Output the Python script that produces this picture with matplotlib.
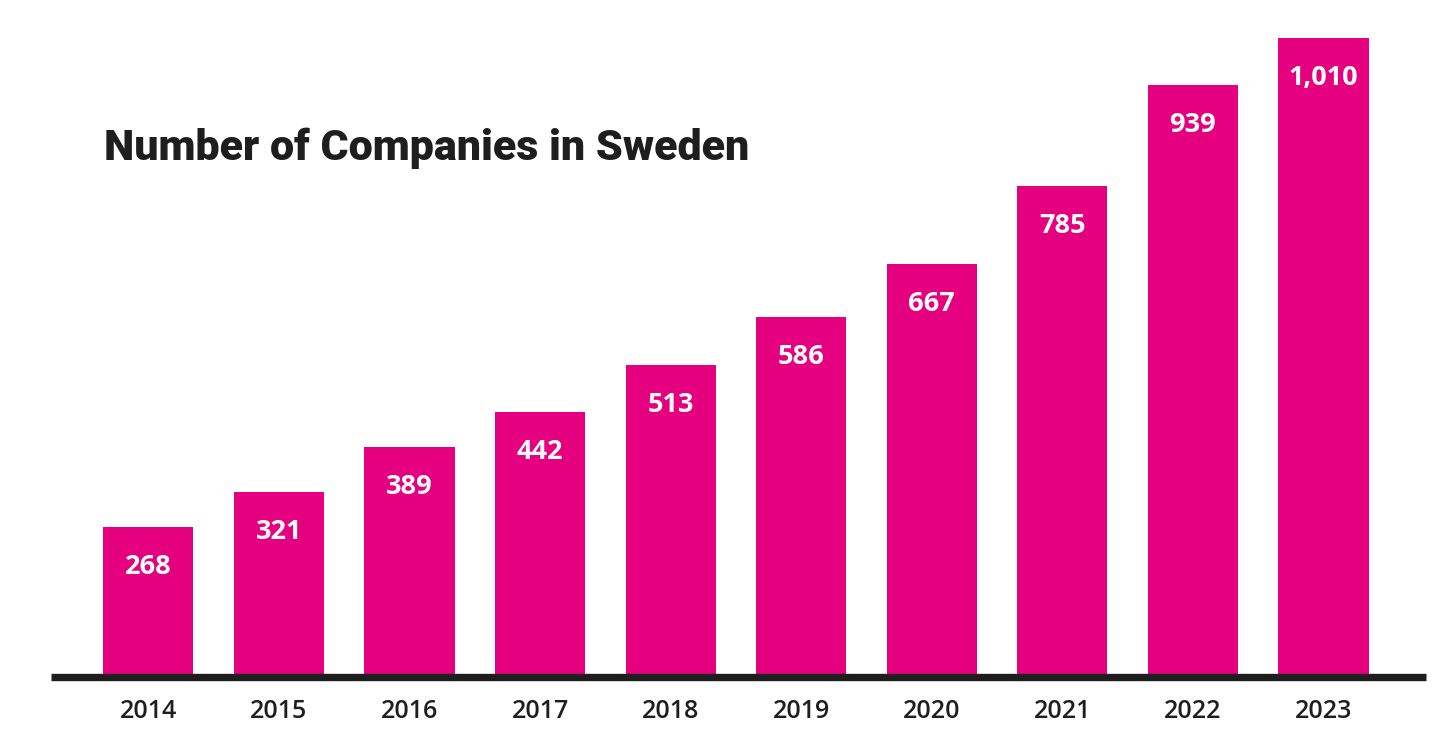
import matplotlib
matplotlib.use("Agg")
import matplotlib.pyplot as plt

years = ["2014", "2015", "2016", "2017", "2018", "2019", "2020", "2021", "2022", "2023"]
companies = [268, 321, 389, 442, 513, 586, 667, 785, 939, 1010]
title = "Number of Companies in Sweden"

bar_color = "#E4007F"
ink = "#1e1e1e"

fig = plt.figure(figsize=(14.54, 7.54), dpi=100)
ax = fig.add_axes([50.7 / 1454, 1 - 677 / 754, (1426 - 50.7) / 1454, (677 - 37.7) / 754])

x = range(len(years))
bars = ax.bar(x, companies, width=0.69, color=bar_color, zorder=1)

for b, v in zip(bars, companies):
    ax.annotate(f"{v:,}", (b.get_x() + b.get_width() / 2, v),
                xytext=(0, -40), textcoords="offset pixels",
                ha="center", va="center", color="white",
                fontsize=19.5, fontweight="bold", family=["Open Sans", "DejaVu Sans"])

ax.set_xlim(-0.748, 9.785)
ax.set_ylim(40.5, 1010)
ax.set_xticks(list(x))
ax.set_xticklabels(years, fontsize=18, fontweight="semibold", color=ink,
                   family=["Open Sans", "DejaVu Sans"])
ax.tick_params(axis="x", length=0, pad=16)
ax.set_yticks([])
for s in ["top", "right", "left"]:
    ax.spines[s].set_visible(False)
ax.spines["bottom"].set_linewidth(5.3)
ax.spines["bottom"].set_color(ink)
ax.spines["bottom"].set_capstyle("butt")
ax.spines["bottom"].set_zorder(3)

fig.text(104 / 1454, 1 - 160 / 754, title, ha="left", va="baseline",
         fontsize=31, fontweight="heavy", color=ink, family=["Roboto", "DejaVu Sans"])

fig.savefig("out.png", dpi=100, facecolor="white")
